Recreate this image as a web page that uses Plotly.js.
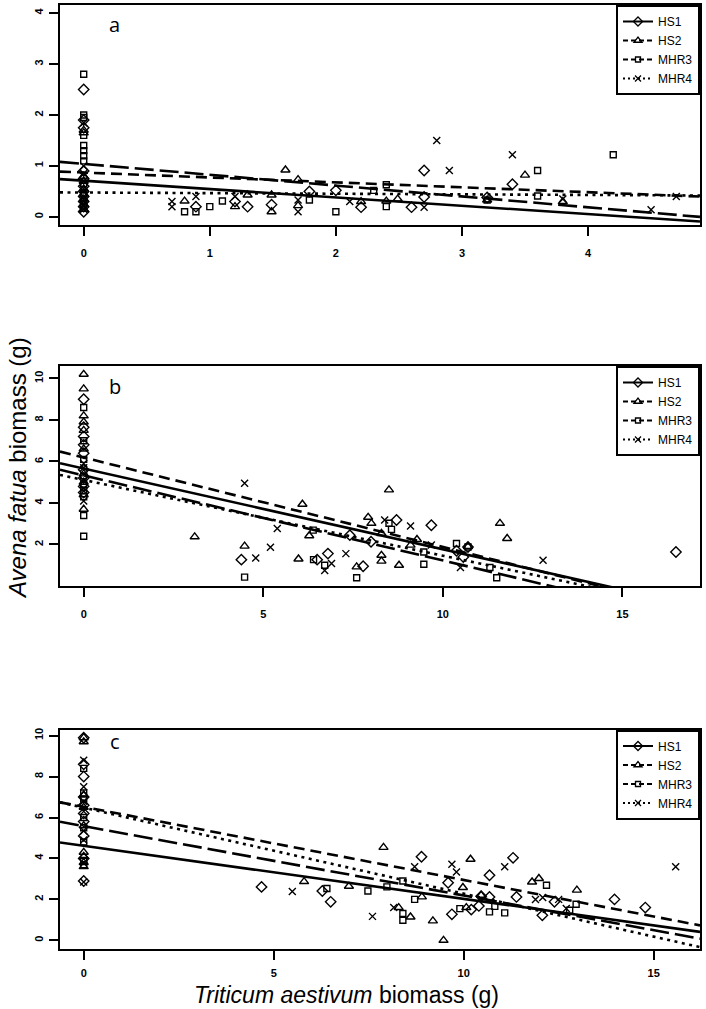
<!DOCTYPE html>
<html>
<head>
<meta charset="utf-8">
<script src="https://cdn.plot.ly/plotly-3.0.1.min.js"></script>
<style>html,body{margin:0;padding:0;background:#fff;}#chart{width:706px;height:1009px;}</style>
</head>
<body>
<div id="chart"></div>
<script>
// ---------- data ----------
var seriesNames = ["HS1", "HS2", "MHR3", "MHR4"];
var panelLabels = ["a", "b", "c"];

// Panel a
var aHS1x = [0,0,0,0,0,0,0,0,0,0,0, 0.89,1.2,1.3,1.49,1.79,2.0,2.2,2.6,2.7,2.7,3.2,3.4];
var aHS1y = [2.5,1.9,1.75,0.9,0.75,0.6,0.5,0.4,0.3,0.2,0.1, 0.2,0.3,0.2,0.24,0.5,0.52,0.19,0.19,0.91,0.39,0.38,0.64];
var aHS2x = [0,0,0,0,0,0,0,0,0, 0.8,1.2,1.3,1.49,1.49,1.6,1.7,1.7,2.2,2.4,2.49,3.2,3.5,3.8];
var aHS2y = [1.7,1.65,0.8,0.7,0.55,0.45,0.35,0.25,0.15, 0.31,0.2,0.43,0.43,0.1,0.92,0.73,0.22,0.3,0.31,0.35,0.33,0.82,0.3];
var aMHR3x = [0,0,0,0,0,0,0,0,0,0,0,0, 0.8,0.89,1.0,1.1,1.79,2.0,2.3,2.4,2.4,3.2,3.6,3.6,4.2];
var aMHR3y = [2.8,2.0,1.95,1.6,1.4,1.3,1.2,1.1,0.65,0.45,0.3,0.2, 0.1,0.1,0.2,0.31,0.33,0.1,0.52,0.63,0.2,0.33,0.91,0.41,1.22];
var aMHR4x = [0,0,0,0,0,0,0, 0.7,0.7,0.89,1.2,1.7,1.7,2.11,2.7,2.8,2.9,3.4,3.8,4.5,4.7];
var aMHR4y = [1.85,1.0,0.85,0.7,0.55,0.35,0.15, 0.3,0.2,0.4,0.4,0.33,0.1,0.3,0.19,1.5,0.91,1.22,0.35,0.14,0.4];

// Panel b
var bHS1x = [0,0,0,0,0,0,0,0,0, 4.39,6.5,6.8,7.41,7.78,8.0,8.71,9.68,10.38,10.57,10.7,16.49];
var bHS1y = [9.0,7.65,7.2,6.8,6.4,5.6,5.2,4.8,4.5, 1.27,1.27,1.56,2.45,0.95,2.13,3.18,2.93,1.7,1.4,1.88,1.64];
var bHS2x = [0,0,0,0,0,0,0,0,0,0, 3.09,4.48,5.98,6.09,6.28,7.6,7.92,8.01,8.29,8.29,8.29,8.5,8.78,9.1,9.28,10.7,11.59,11.79];
var bHS2y = [10.2,9.5,8.2,7.9,7.5,6.6,5.4,5.0,4.4,3.7, 2.37,1.92,1.3,3.94,2.42,0.92,3.31,3.02,2.53,1.48,1.2,4.63,1.0,1.97,2.24,1.9,3.02,2.29];
var bMHR3x = [0,0,0,0,0,0,0,0,0, 4.48,6.39,6.4,6.71,7.6,8.5,8.57,9.47,9.47,10.38,10.7,11.31,11.5];
var bMHR3y = [8.6,7.0,6.1,5.3,4.9,4.6,4.3,3.4,2.4, 0.43,2.69,1.27,1.0,0.4,3.02,2.73,1.64,1.05,2.05,1.88,0.89,0.4];
var bMHR4x = [0,0,0,0,0, 4.48,4.79,5.2,5.39,6.71,6.9,7.3,8.38,9.1,9.68,10.49,12.79];
var bMHR4y = [5.9,5.7,5.1,4.7,4.1, 4.95,1.35,1.87,2.77,0.75,1.08,1.56,3.18,2.89,1.97,0.89,1.24];

// Panel c
var cHS1x = [0,0,0,0,0,0,0,0,0,0, 4.68,6.28,6.5,8.89,9.59,9.69,10.2,10.4,10.46,10.68,10.68,11.3,11.39,12.07,12.39,13.97,14.78];
var cHS1y = [9.9,8.6,8.0,7.0,6.6,6.2,5.8,5.1,4.0,2.9, 2.61,2.41,1.88,4.08,2.81,1.27,1.5,1.68,2.15,3.18,2.12,4.03,2.12,1.22,1.88,2.0,1.6];
var cHS2x = [0,0,0,0,0,0,0,0,0, 5.8,6.98,7.89,8.29,8.6,8.9,9.19,9.47,9.98,10.07,10.18,10.46,11.8,11.98,12.98];
var cHS2y = [9.9,9.7,7.1,6.5,5.6,4.3,4.1,3.8,3.6, 2.87,2.64,4.54,1.6,1.14,2.12,0.95,0.0,2.58,1.6,3.96,2.2,2.85,3.02,2.45];
var cMHR3x = [0,0,0,0,0,0,0,0, 6.4,7.48,7.98,8.4,8.4,8.4,8.71,9.9,10.68,10.82,11.08,12.18,12.79,12.96];
var cMHR3y = [8.4,7.2,6.9,6.0,5.5,4.8,3.9,3.7, 2.53,2.41,2.61,2.9,1.31,0.98,2.0,1.55,1.39,1.66,1.34,2.69,1.47,1.76];
var cMHR4x = [0,0,0,0,0,0,0, 5.49,7.6,8.16,8.71,9.69,9.81,11.08,11.89,12.08,12.5,12.7,15.58];
var cMHR4y = [8.8,7.5,6.8,6.3,5.35,4.9,2.85, 2.38,1.17,1.6,3.59,3.72,3.34,3.59,1.99,2.09,2.0,1.55,3.59];

// fitted regression lines (intercept, slope) for HS1, HS2, MHR3, MHR4
var aIntercepts = [0.71, 0.87, 1.04, 0.478];
var aSlopes     = [-0.164, -0.0965, -0.213, -0.012];
var bIntercepts = [5.66, 6.19, 5.33, 5.11];
var bSlopes     = [-0.389, -0.431, -0.41, -0.365];
var cIntercepts = [4.62, 6.52, 5.58, 6.48];
var cSlopes     = [-0.2595, -0.357, -0.339, -0.42];

// axis ticks
var aXTicks = [0,1,2,3,4];
var aYTicks = [0,1,2,3,4];
var bXTicks = [0,5,10,15];
var bYTicks = [2,4,6,8,10];
var cXTicks = [0,5,10,15];
var cYTicks = [0,2,4,6,8,10];

var xTitle = "<i>Triticum aestivum</i> biomass (g)";
var yTitle = "<i>Avena fatua</i> biomass (g)";

// ---------- styling ----------
var symbols = ["diamond-open", "triangle-up-open", "square-open", "x-thin-open"];
var msizes  = [8, 8, 6, 7];
var dashes  = ["solid", "11px,6px", "19px,6px", "3px,4.5px"];
var FONT = "Liberation Sans, Arial, sans-serif";

var panels = [
  {xs:[aHS1x,aHS2x,aMHR3x,aMHR4x], ys:[aHS1y,aHS2y,aMHR3y,aMHR4y], ic:aIntercepts, sl:aSlopes,
   xr:[-0.188,4.888], yr:[-0.16,4.16], xt:aXTicks, yt:aYTicks, dom:[1-225/1009, 1-5/1009], so:8},
  {xs:[bHS1x,bHS2x,bMHR3x,bMHR4x], ys:[bHS1y,bHS2y,bMHR3y,bMHR4y], ic:bIntercepts, sl:bSlopes,
   xr:[-0.66,17.16], yr:[0.0,10.6], xt:bXTicks, yt:bYTicks, dom:[1-586/1009, 1-366/1009], so:8},
  {xs:[cHS1x,cHS2x,cMHR3x,cMHR4x], ys:[cHS1y,cHS2y,cMHR3y,cMHR4y], ic:cIntercepts, sl:cSlopes,
   xr:[-0.624,16.22], yr:[-0.4,10.3], xt:cXTicks, yt:cYTicks, dom:[1-948.5/1009, 1-729.5/1009], so:4}
];

var traces = [];
var layout = {
  width: 706, height: 1009,
  margin: {l:0, r:0, t:0, b:0},
  paper_bgcolor: "#fff", plot_bgcolor: "#fff",
  showlegend: true,
  font: {family: FONT, color: "#000"},
  annotations: [],
  shapes: []
};

var xDom = [60/706, 700/706];

panels.forEach(function(p, k) {
  var sfx = k === 0 ? "" : String(k+1);
  var xa = "x" + sfx, ya = "y" + sfx;
  var leg = "legend" + sfx;
  for (var s = 0; s < 4; s++) {
    // points
    traces.push({
      type: "scatter", mode: "markers", x: p.xs[s], y: p.ys[s], xaxis: xa, yaxis: ya,
      showlegend: false, cliponaxis: true,
      marker: {symbol: symbols[s], size: msizes[s], color: "#000", line: {color: "#000", width: 1.4}}
    });
    // fitted line across the full x range
    var x0 = p.xr[0], x1 = p.xr[1];
    traces.push({
      type: "scatter", mode: "lines", x: [x0, x1],
      y: [p.ic[s] + p.sl[s]*x0, p.ic[s] + p.sl[s]*x1], xaxis: xa, yaxis: ya,
      showlegend: false, hoverinfo: "skip",
      line: {color: "#000", width: 2.6, dash: dashes[s]}
    });
  }
  // legend entries
  for (var s2 = 0; s2 < 4; s2++) {
    traces.push({
      type: "scatter", mode: "lines+markers", x: [null], y: [null], xaxis: xa, yaxis: ya,
      name: seriesNames[s2], legend: leg, showlegend: true,
      line: {color: "#000", width: 2, dash: dashes[s2] === "solid" ? "solid" : (s2 === 3 ? "2px,3px" : "5px,3px")},
      marker: {symbol: symbols[s2], size: msizes[s2]-1, color: "#000", line: {color: "#000", width: 1.3}}
    });
  }
  var axBase = {
    showline: true, mirror: true, linecolor: "#000", linewidth: 2,
    ticks: "outside", ticklen: 9, tickwidth: 2, tickcolor: "#000",
    showgrid: false, zeroline: false, tickmode: "array",
    tickfont: {family: FONT, size: 11, color: "#000", weight: "bold"}
  };
  layout["xaxis" + sfx] = Object.assign({}, axBase, {
    domain: xDom, anchor: ya, range: p.xr, tickvals: p.xt, ticktext: p.xt.map(String),
    ticklabelstandoff: p.so
  });
  layout["yaxis" + sfx] = Object.assign({}, axBase, {
    domain: p.dom, anchor: xa, range: p.yr, tickvals: p.yt, ticktext: p.yt.map(String),
    tickangle: -90, ticklabelstandoff: 2
  });
  layout[leg] = {
    x: 700/706, xanchor: "right", y: p.dom[1], yanchor: "top", xref: "paper", yref: "paper",
    bgcolor: "#fff", bordercolor: "#000", borderwidth: 2,
    font: {family: "Liberation Sans Narrow, Liberation Sans, Arial, sans-serif", size: 12, color: "#000"},
    itemwidth: 30, tracegroupgap: 0
  };
  layout.annotations.push({
    text: panelLabels[k], xref: "paper", yref: "paper",
    x: 115/706, y: [1-24/1009, 1-387/1009, 1-741/1009][k], xanchor: "center", yanchor: "middle",
    showarrow: false, font: {family: "Open Sans, Liberation Sans, sans-serif", size: 20, color: "#000"}
  });
});

layout.annotations.push({
  text: yTitle, xref: "paper", yref: "paper", x: 18/706, y: 1-468/1009,
  xanchor: "center", yanchor: "middle", textangle: -90, showarrow: false,
  font: {family: FONT, size: 24, color: "#000"}
});
layout.annotations.push({
  text: xTitle, xref: "paper", yref: "paper", x: 346/706, y: 1-995/1009,
  xanchor: "center", yanchor: "middle", showarrow: false,
  font: {family: FONT, size: 23, color: "#000"}
});

Plotly.newPlot("chart", traces, layout, {displayModeBar: false, staticPlot: true});
</script>
</body>
</html>
